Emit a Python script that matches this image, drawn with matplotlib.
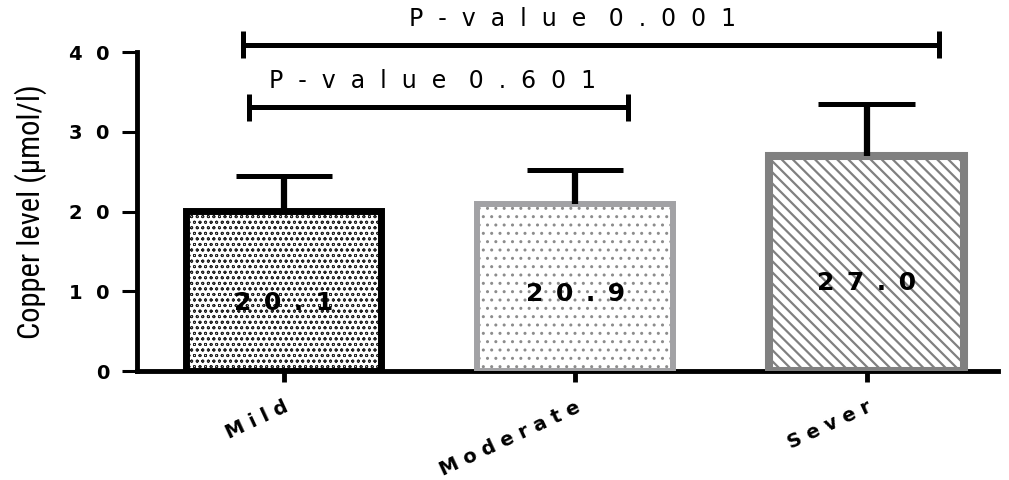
import numpy as np
import matplotlib.pyplot as plt
from matplotlib import font_manager
from matplotlib.transforms import offset_copy

plt.rcParams['font.family'] = 'DejaVu Sans'

# copper level by severity (mean, sd)
groups = ['Mild', 'Moderate', 'Sever']
means = [20.1, 20.9, 27.0]
sd = [4.4, 4.3, 6.5]
yticks = [0, 10, 20, 30, 40]

# p-values between groups
comparisons = [(0, 1, 'P-value 0.601'), (0, 2, 'P-value 0.001')]

# styles
edge_colors = ['black', '#a2a2a5', '#808080']
hatch_colors = ['#222222', '#8c8c8c', '#808080']
hatches = ['ooo', '..', '\\\\\\']
hatch_widths = [0.6, 1.0, 1.6]
edge_widths = [5.0, 4.3, 5.8]
value_y = [8.5, 9.7, 11.0]
bracket_y = [33.1, 40.9]
bracket_x = [(-0.12, 1.18), (-0.14, 2.25)]
bracket_text_x = [0.51, 0.99]


def spaced(s, gap='  ', word_gap='   '):
    # fake letter spacing, the original figure was stretched sideways
    return word_gap.join(gap.join(w) for w in s.split(' '))


def first_font(names):
    for n in names:
        try:
            font_manager.findfont(n, fallback_to_default=False)
            return n
        except ValueError:
            pass
    return None


narrow = first_font(['Liberation Sans Narrow', 'Roboto Condensed', 'Arial Narrow'])
if narrow:
    ylab_font, ylab_size = narrow, 22
else:
    ylab_font, ylab_size = 'Liberation Sans', 18

fig = plt.figure(figsize=(10.09, 4.8), dpi=100)
ax = fig.add_axes([0.1358, 0.227, 0.853, 0.6646])

x = np.arange(len(groups))
tops = np.array(means) + np.array(sd)

for i in x:
    with plt.rc_context({'hatch.linewidth': hatch_widths[i]}):
        ax.bar(i, means[i], width=0.67, color='white', edgecolor=hatch_colors[i],
               hatch=hatches[i], linewidth=0, zorder=2)
    ax.bar(i, means[i], width=0.67, fill=False, edgecolor=edge_colors[i],
           linewidth=edge_widths[i], zorder=3)
    ax.text(i, value_y[i], spaced('%.1f' % means[i], gap='\u2002'), ha='center', va='center',
            fontsize=18, fontweight='bold', zorder=5)

# only the upper half of the error bar
ax.vlines(x, means, tops, color='black', linewidth=4.5, zorder=4)
ax.hlines(tops, x - 0.165, x + 0.165, color='black', linewidth=3.6, zorder=4)

for (i, j, txt), y, (l, r), tx in zip(comparisons, bracket_y, bracket_x, bracket_text_x):
    ax.plot([l, r], [y, y], color='black', linewidth=3.6, solid_capstyle='butt', clip_on=False)
    ax.vlines([l, r], y - 1.7, y + 1.7, color='black', linewidth=3.6, clip_on=False)
    ax.text(tx, y + 2.4, spaced(txt), ha='center', va='baseline', fontsize=17, clip_on=False)

ax.set_xlim(-0.503, 2.45)
ax.set_ylim(0, 40)
ax.set_yticks(yticks)
ax.set_yticklabels([spaced(str(t)) for t in yticks], fontsize=14, fontweight='bold')
ax.set_xticks(x)
ax.set_xticklabels([spaced(g, ' ') for g in groups], rotation=25, ha='right', va='top',
                   rotation_mode='anchor', fontsize=14, fontweight='bold')
for lab in ax.get_xticklabels():
    lab.set_transform(offset_copy(lab.get_transform(), fig=fig, x=-7, y=0, units='points'))

ax.tick_params(axis='y', length=11, width=2.2, pad=9)
ax.tick_params(axis='x', length=8, width=3.5, pad=11)

for s in ['top', 'right']:
    ax.spines[s].set_visible(False)
for s in ['left', 'bottom']:
    ax.spines[s].set_linewidth(3.5)

ax.set_ylabel('Copper level (μmol/l)', fontsize=ylab_size, family=[ylab_font, 'DejaVu Sans'])
ax.yaxis.set_label_coords(-0.1045, 0.5)

fig.savefig('out.png', dpi=100)
